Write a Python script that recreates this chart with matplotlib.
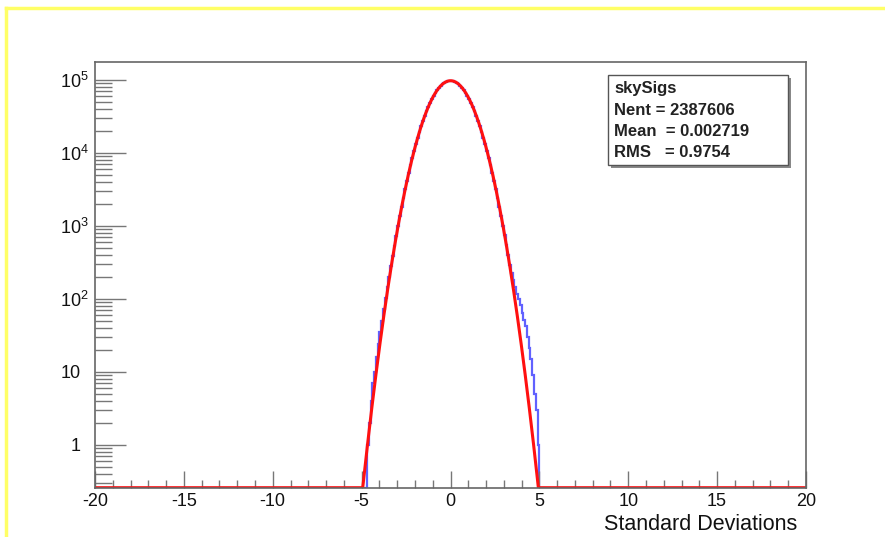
import numpy as np
import matplotlib
matplotlib.use("Agg")
import matplotlib.pyplot as plt
import matplotlib.transforms as mtransforms
from matplotlib.patches import Rectangle
from matplotlib.lines import Line2D
from matplotlib.ticker import FixedLocator, LogLocator, NullFormatter

plt.rcParams["font.family"] = ["Liberation Sans", "DejaVu Sans"]

# histogram: 400 bins of 0.1 from -20 to 20, only -5..5 is filled
hist_lo, hist_hi, bin_w = -20.0, 20.0, 0.1
filled_lo = -5.0
filled_counts = [
    0, 0, 0, 1, 2, 4, 7, 10, 16, 24,
    35, 50, 72, 102, 145, 200, 280, 385, 535, 738,
    1010, 1368, 1834, 2436, 3200, 4160, 5352, 6818, 8592, 10712,
    13221, 16142, 19503, 23331, 27602, 32318, 37447, 42937, 48716, 54699,
    60757, 66789, 72657, 78208, 83318, 87818, 91596, 94534, 96545, 97565,
    97560, 96550, 94540, 91610, 87840, 83350, 78240, 72700, 66830, 60800,
    54740, 48760, 42980, 37490, 32360, 27640, 23370, 19530, 16170, 13250,
    10740, 8615, 6840, 5370, 4175, 3212, 2445, 1842, 1375, 1015,
    745, 545, 398, 292, 225, 180, 145, 118, 100, 82,
    64, 52, 42, 30, 21, 15, 9, 5, 3, 1,
]

# gaussian fit parameters
fit_const = 97690.0
fit_mean = 0.0027
fit_sigma = 0.975

stats_lines = ["skySigs", "Nent = 2387606", "Mean  = 0.002719", "RMS   = 0.9754"]
x_ticks = [-20, -15, -10, -5, 0, 5, 10, 15, 20]
y_ticks = [1, 10, 1e2, 1e3, 1e4, 1e5]
y_labels = ["1", "10", r"$\mathregular{10^{2}}$", r"$\mathregular{10^{3}}$",
            r"$\mathregular{10^{4}}$", r"$\mathregular{10^{5}}$"]

ymin, ymax = 0.26, 1.78e5

edges = np.arange(hist_lo, hist_hi + bin_w / 2, bin_w)
counts = np.zeros(len(edges) - 1)
i0 = int(round((filled_lo - hist_lo) / bin_w))
counts[i0:i0 + len(filled_counts)] = filled_counts
shown = np.where(counts > 0, counts, ymin)

fig = plt.figure(figsize=(8.85, 5.37), dpi=100)
ax = fig.add_axes([95 / 885, 1 - 487.7 / 537, 711 / 885, 426 / 537])

ax.stairs(shown, edges, baseline=None, color="#3a3aff", lw=1.6, alpha=0.8)

xf = np.linspace(hist_lo, hist_hi, 4001)
yf = fit_const * np.exp(-0.5 * ((xf - fit_mean) / fit_sigma) ** 2)
ax.plot(xf, np.clip(yf, ymin, None), color="#ff1010", lw=2.2)

ax.set_yscale("log")
ax.set_xlim(hist_lo, hist_hi)
ax.set_ylim(ymin, ymax)

ax.xaxis.set_major_locator(FixedLocator(x_ticks))
ax.xaxis.set_minor_locator(FixedLocator(np.arange(-20, 21, 1)))
ax.yaxis.set_major_locator(FixedLocator(y_ticks))
ax.yaxis.set_minor_locator(LogLocator(base=10, subs=np.arange(2, 10)))
ax.yaxis.set_minor_formatter(NullFormatter())
ax.set_xticklabels([str(t) for t in x_ticks])
ax.set_yticklabels(y_labels)

ax.tick_params(axis="both", which="both", direction="in", color="#777777",
               top=False, right=False, labelsize=13, labelcolor="#111111")
ax.tick_params(axis="x", which="major", length=12, width=1, pad=4)
ax.tick_params(axis="x", which="minor", length=6, width=1)
ax.tick_params(axis="y", which="major", length=22, width=1, pad=10.5)
ax.tick_params(axis="y", which="minor", length=12, width=1)
for s in ax.spines.values():
    s.set_color("#666666")
    s.set_linewidth(1.2)

# powers of ten hang their exponent out toward the frame
shift = mtransforms.ScaledTranslation(8 / 100, 0, fig.dpi_scale_trans)
for lab in ax.get_yticklabels():
    if "^" in lab.get_text():
        lab.set_transform(lab.get_transform() + shift)

fig.text(797 / 885, 1 - 524 / 537, "Standard Deviations", fontsize=15.5,
         ha="right", va="center", color="#111111")

# stats box with a drop shadow
bx0, by0, bw, bh = 608 / 885, 1 - 165 / 537, 180 / 885, 90 / 537
fig.patches.append(Rectangle((bx0 + 3 / 885, by0 - 3 / 537), bw, bh,
                             transform=fig.transFigure, fc="#888888", ec="none"))
fig.patches.append(Rectangle((bx0, by0), bw, bh, transform=fig.transFigure,
                             fc="white", ec="#555555", lw=1.0))
for k, line in enumerate(stats_lines):
    fig.text(bx0 + 6 / 885, 1 - (89 + 21.3 * k) / 537, line, fontsize=12,
             fontweight="bold", color="#222222", va="center", ha="left")

# yellow page border
fig.lines.append(Line2D([6 / 885, 1], [1 - 8 / 537] * 2, transform=fig.transFigure,
                        color="#ffff66", lw=2.5))
fig.lines.append(Line2D([6 / 885] * 2, [0, 1 - 8 / 537], transform=fig.transFigure,
                        color="#ffff66", lw=2.5))

fig.savefig("out.png", dpi=100)
